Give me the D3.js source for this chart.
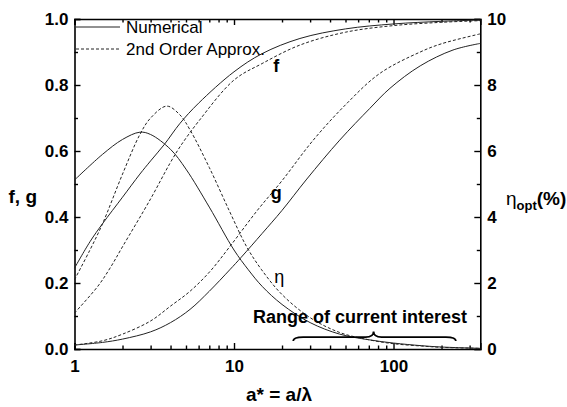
<!DOCTYPE html>
<html>
<head>
<meta charset="utf-8">
<script src="https://cdn.jsdelivr.net/npm/d3@7"></script>
<style>
  body { margin: 0; background: #fff; }
  text { font-family: "Liberation Sans", Arial, sans-serif; }
</style>
</head>
<body>
<svg id="chart" width="567" height="407"></svg>
<script>
// values
const fNumA = [1, 1.25, 1.5, 2, 2.57, 3, 3.66, 4.59, 6, 10, 15, 25.9, 50, 100, 200, 350];
const fNum  = [0.245, 0.325, 0.38, 0.46, 0.53, 0.57, 0.62, 0.684, 0.745, 0.84, 0.895, 0.941, 0.97, 0.985, 0.993, 0.997];

const fApxA = [1, 1.4, 1.67, 2, 3, 3.97, 4.59, 6, 10, 15, 25.9, 50, 100, 200, 350];
const fApx  = [0.109, 0.19, 0.245, 0.31, 0.455, 0.563, 0.613, 0.69, 0.815, 0.865, 0.921, 0.96, 0.98, 0.99, 0.995];

const gNumA = [1, 1.5, 2, 3, 4, 5.3, 7, 9.4, 11.1, 15, 20, 28.6, 46, 71, 95, 147, 236, 350];
const gNum  = [0.012, 0.02, 0.03, 0.052, 0.08, 0.12, 0.175, 0.24, 0.278, 0.35, 0.42, 0.515, 0.633, 0.729, 0.79, 0.858, 0.906, 0.926];

const gApxA = [1, 1.5, 2, 3, 4, 5.3, 7.07, 9.4, 14, 20, 31.4, 50, 82, 147, 200, 350];
const gApx  = [0.012, 0.025, 0.045, 0.085, 0.13, 0.175, 0.235, 0.31, 0.42, 0.51, 0.633, 0.74, 0.835, 0.9, 0.925, 0.955];

// efficiency in %
const eNumA = [1, 1.5, 2, 2.57, 3, 4, 5, 7, 10, 12.3, 15, 20, 30, 46, 70, 100, 150, 200, 350];
const eNum  = [5.12, 5.9, 6.35, 6.57, 6.5, 6.05, 5.45, 4.3, 3.0, 2.4, 1.9, 1.35, 0.8, 0.45, 0.28, 0.18, 0.1, 0.06, 0.02];

const eApxA = [1, 1.25, 1.5, 2, 2.57, 3, 3.79, 4.59, 5.3, 7, 9.4, 12, 14.9, 20, 30, 46, 70, 100, 150, 200, 350];
const eApx  = [2.1, 3.0, 3.8, 5.3, 6.5, 7.0, 7.36, 7.09, 6.64, 5.5, 4.16, 3.1, 2.4, 1.65, 0.95, 0.5, 0.28, 0.16, 0.09, 0.05, 0.02];

const xMajor = [1, 10, 100];
const xMinor = [2, 3, 4, 5, 6, 7, 8, 9, 20, 30, 40, 50, 60, 70, 80, 90, 200, 300];
const yLeftMajor = [0, 0.2, 0.4, 0.6, 0.8, 1.0];
const yLeftMinor = [0.1, 0.3, 0.5, 0.7, 0.9];
const yRightMajor = [0, 2, 4, 6, 8, 10];
const yRightMinor = [1, 3, 5, 7, 9];

const interestRange = [23.5, 75, 246];

const svg = d3.select("#chart");
const m = { left: 74.5, right: 86.7, top: 19, bottom: 58 };
const W = 567, H = 407;

const x = d3.scaleLog().domain([1, 350]).range([m.left, W - m.right]);
const yL = d3.scaleLinear().domain([0, 1]).range([H - m.bottom, m.top]);
const yR = d3.scaleLinear().domain([0, 10]).range([H - m.bottom, m.top]);

const labelFont = "bold 17px 'Liberation Sans', Arial, sans-serif";

function styleAxis(g) {
  g.select(".domain").attr("stroke", "#000").attr("stroke-width", 1.6);
  g.selectAll(".tick line").attr("stroke", "#000").attr("stroke-width", 1.4);
  g.selectAll(".tick text").style("font", labelFont).attr("fill", "#000");
}

// bottom
svg.append("g").attr("transform", `translate(0,${H - m.bottom})`)
  .call(d3.axisBottom(x).tickValues(xMajor).tickFormat(d3.format("d")).tickSize(-6).tickPadding(11))
  .call(styleAxis);
svg.append("g").attr("transform", `translate(0,${H - m.bottom})`)
  .call(d3.axisBottom(x).tickValues(xMinor).tickFormat("").tickSize(-3.5))
  .call(styleAxis).select(".domain").remove();
// top
svg.append("g").attr("transform", `translate(0,${m.top})`)
  .call(d3.axisTop(x).tickValues(xMajor).tickFormat("").tickSize(-6))
  .call(styleAxis);
svg.append("g").attr("transform", `translate(0,${m.top})`)
  .call(d3.axisTop(x).tickValues(xMinor).tickFormat("").tickSize(-3.5))
  .call(styleAxis).select(".domain").remove();
// left
svg.append("g").attr("transform", `translate(${m.left},0)`)
  .call(d3.axisLeft(yL).tickValues(yLeftMajor).tickFormat(d3.format(".1f")).tickSize(-6).tickPadding(6))
  .call(styleAxis);
svg.append("g").attr("transform", `translate(${m.left},0)`)
  .call(d3.axisLeft(yL).tickValues(yLeftMinor).tickFormat("").tickSize(-3.5))
  .call(styleAxis).select(".domain").remove();
// right
svg.append("g").attr("transform", `translate(${W - m.right},0)`)
  .call(d3.axisRight(yR).tickValues(yRightMajor).tickFormat(d3.format("d")).tickSize(-6).tickPadding(7))
  .call(styleAxis);
svg.append("g").attr("transform", `translate(${W - m.right},0)`)
  .call(d3.axisRight(yR).tickValues(yRightMinor).tickFormat("").tickSize(-3.5))
  .call(styleAxis).select(".domain").remove();

// curves
function drawCurve(as, vs, yScale, dashed) {
  const pts = as.map((a, i) => [a, vs[i]]);
  svg.append("path")
    .datum(pts)
    .attr("fill", "none")
    .attr("stroke", "#222")
    .attr("stroke-width", 1)
    .attr("stroke-dasharray", dashed ? "3,2" : null)
    .attr("d", d3.line().x(d => x(d[0])).y(d => yScale(d[1])).curve(d3.curveCatmullRom.alpha(0.5)));
}
drawCurve(fNumA, fNum, yL, false);
drawCurve(fApxA, fApx, yL, true);
drawCurve(gNumA, gNum, yL, false);
drawCurve(gApxA, gApx, yL, true);
drawCurve(eNumA, eNum, yR, false);
drawCurve(eApxA, eApx, yR, true);

// curve labels
svg.append("text").attr("x", x(17.6)).attr("y", yL(0.84))
  .style("font", "bold 18px 'Liberation Sans', Arial, sans-serif").text("f");
svg.append("text").attr("x", x(17.0)).attr("y", yL(0.455))
  .style("font", "bold 18px 'Liberation Sans', Arial, sans-serif").text("g");
svg.append("text").attr("x", x(17.9)).attr("y", yR(2.0))
  .style("font", "18px 'Liberation Sans', Arial, sans-serif").text("η");

// range of interest
svg.append("text").attr("x", x(61.7)).attr("y", yL(0.079)).attr("text-anchor", "middle")
  .style("font", "bold 18px 'Liberation Sans', Arial, sans-serif").text("Range of current interest");

const bx0 = x(interestRange[0]), bxm = x(interestRange[1]), bx1 = x(interestRange[2]);
const by = yL(0.036), byTip = yL(0.053), byEnd = yL(0.024);
svg.append("path")
  .attr("fill", "none").attr("stroke", "#000").attr("stroke-width", 1.8)
  .attr("d", `M${bx0},${byEnd} Q${bx0},${by} ${bx0 + 10},${by} L${bxm - 8},${by} Q${bxm},${by} ${bxm},${byTip}` +
             ` Q${bxm},${by} ${bxm + 8},${by} L${bx1 - 10},${by} Q${bx1},${by} ${bx1},${byEnd}`);

// axis titles
svg.append("text").attr("x", 37).attr("y", 203).attr("text-anchor", "end")
  .style("font", "bold 19px 'Liberation Sans', Arial, sans-serif").text("f, g");

const rt = svg.append("text").attr("x", 506).attr("y", 205)
  .style("font", "19px 'Liberation Sans', Arial, sans-serif");
rt.append("tspan").text("η");
rt.append("tspan").attr("dy", 5).style("font", "bold 13px 'Liberation Sans', Arial, sans-serif").text("opt");
rt.append("tspan").attr("dy", -5).style("font", "bold 19px 'Liberation Sans', Arial, sans-serif").text("(%)");

svg.append("text").attr("x", 279).attr("y", 401).attr("text-anchor", "middle")
  .style("font", "bold 19px 'Liberation Sans', Arial, sans-serif").text("a* = a/λ");

// legend
const legend = svg.append("g").attr("transform", `translate(${m.left + 1.5},0)`);
[["Numerical", null, 27], ["2nd Order Approx.", "3,2", 49]].forEach(([label, dash, yy]) => {
  legend.append("line").attr("x1", 0).attr("x2", 44).attr("y1", yy).attr("y2", yy)
    .attr("stroke", "#222").attr("stroke-width", 1).attr("stroke-dasharray", dash);
  legend.append("text").attr("x", 50).attr("y", yy + 6)
    .style("font", "17px 'Liberation Sans', Arial, sans-serif").text(label);
});
</script>
</body>
</html>
